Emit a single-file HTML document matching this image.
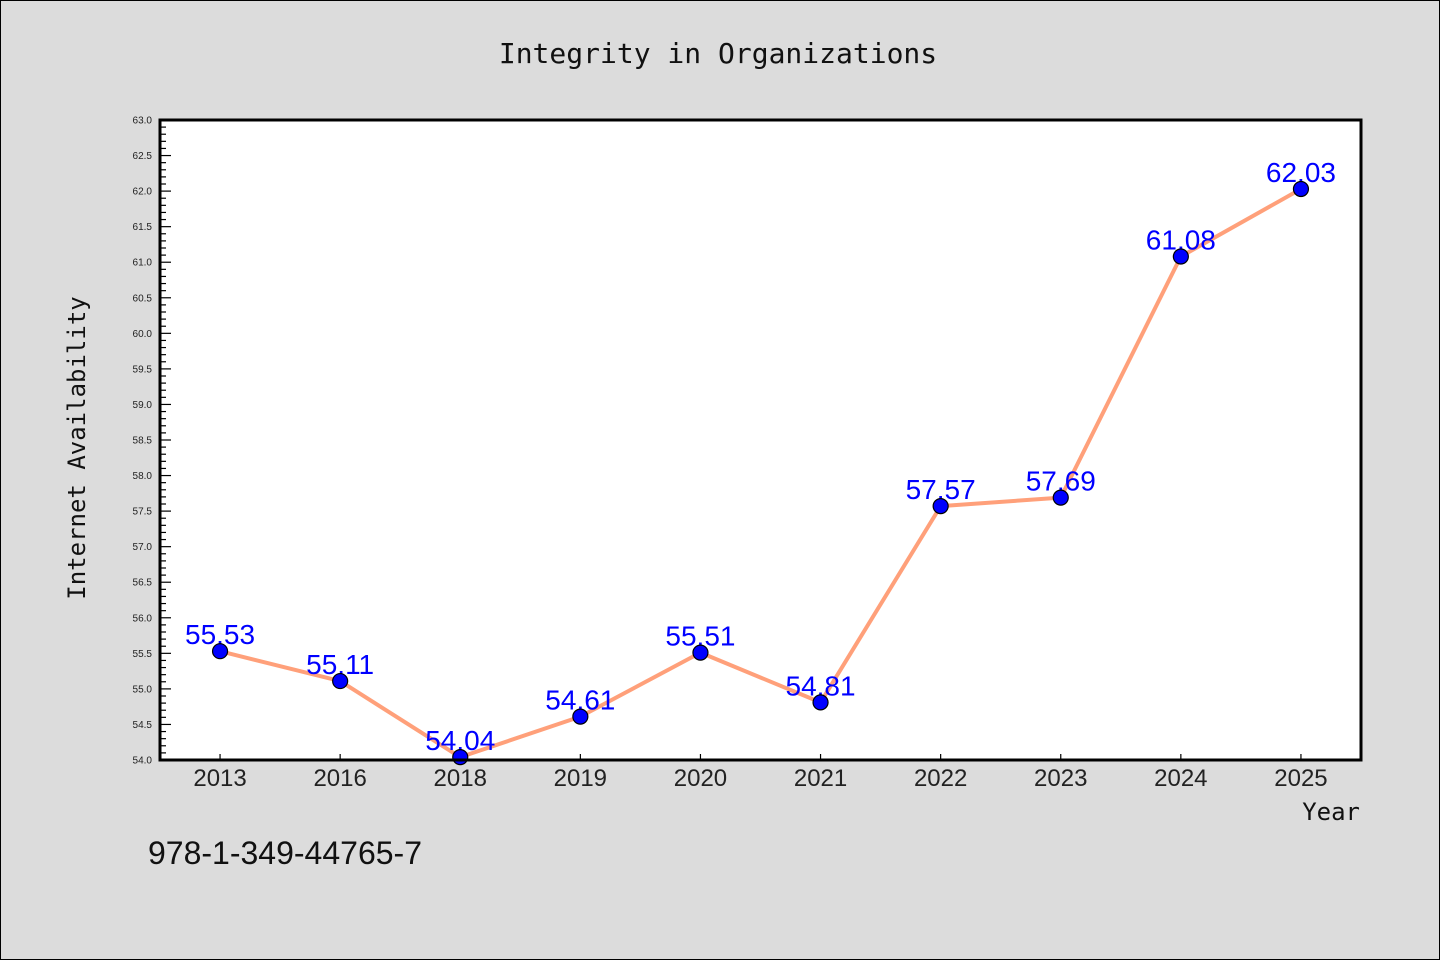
<!DOCTYPE html>
<html><head><meta charset="utf-8"><style>
body{margin:0;background:#dcdcdc;}
svg{display:block;font-family:"Liberation Sans","DejaVu Sans",sans-serif;}
</style></head><body>
<svg id="c" width="1440" height="960">
<rect x="0.5" y="0.5" width="1439" height="959" fill="#dcdcdc" stroke="#000"/>
<text x="718" y="63" text-anchor="middle" font-size="28" font-family="DejaVu Sans Mono, monospace" fill="#111">Integrity in Organizations</text>
<rect x="160" y="120" width="1201" height="640" fill="#fff"/>
<g id="yax"></g>
<g id="xax"></g>
<g id="series"></g>
<rect x="160" y="120" width="1201" height="640" fill="none" stroke="#000" stroke-width="3"/>
<text transform="translate(85,448) rotate(-90)" text-anchor="middle" font-size="24" font-family="DejaVu Sans Mono, monospace" fill="#111">Internet Availability</text>
<text x="1360" y="820" text-anchor="end" font-size="24" font-family="DejaVu Sans Mono, monospace" fill="#111">Year</text>
<text x="148" y="864" font-size="32" fill="#111">978-1-349-44765-7</text>
</svg>
<script>
const categories=["2013","2016","2018","2019","2020","2021","2022","2023","2024","2025"];
const values=[55.53,55.11,54.04,54.61,55.51,54.81,57.57,57.69,61.08,62.03];
const valueLabels=["55.53","55.11","54.04","54.61","55.51","54.81","57.57","57.69","61.08","62.03"];
const yMin=54,yMax=63;
const NS="http://www.w3.org/2000/svg";
const L=160,R=1361,T=120,B=760;
const band=(R-L)/categories.length;
const xS=i=>L+band*(i+0.5);
const yS=v=>B-(v-yMin)/(yMax-yMin)*(B-T);
function mk(t,a,p){const e=document.createElementNS(NS,t);for(const k in a)e.setAttribute(k,a[k]);p.appendChild(e);return e;}
const yax=document.getElementById('yax');
for(let k=0;k<=90;k++){const v=yMin+k*0.1;const y=yS(v);const major=k%5===0;
 const t=mk('line',{x1:L,x2:L+(major?11:6),y1:y,y2:y,stroke:'#000','stroke-width':1.2},yax);
 
 
 if(major){const tx=mk('text',{x:L-8,y:y+3.5,'text-anchor':'end','font-size':10,fill:'#222'},yax);tx.textContent=v.toFixed(1);
 
 }}
const xax=document.getElementById('xax');
categories.forEach((c,i)=>{const x=xS(i);
 const t=mk('line',{x1:x,x2:x,y1:B,y2:B-6,stroke:'#000','stroke-width':1.2},xax);
 
 
 const tx=mk('text',{x:x,y:B+26,'text-anchor':'middle','font-size':24,fill:'#222'},xax);tx.textContent=c;
 
 });
const s=document.getElementById('series');
const line=mk('polyline',{points:values.map((v,i)=>xS(i)+','+yS(v)).join(' '),fill:'none',stroke:'#FFA07A','stroke-width':4,'stroke-linejoin':'round'},s);


values.forEach((v,i)=>{
 const tx=mk('text',{x:xS(i),y:yS(v)-7,'text-anchor':'middle','font-size':28,fill:'#0000ff'},s);tx.textContent=valueLabels[i];
 
 });
values.forEach((v,i)=>{
 const c=mk('circle',{cx:xS(i),cy:yS(v),r:7.5,fill:'#0000ff',stroke:'#000','stroke-width':1.2},s);
 
 });
</script>
</body></html>
